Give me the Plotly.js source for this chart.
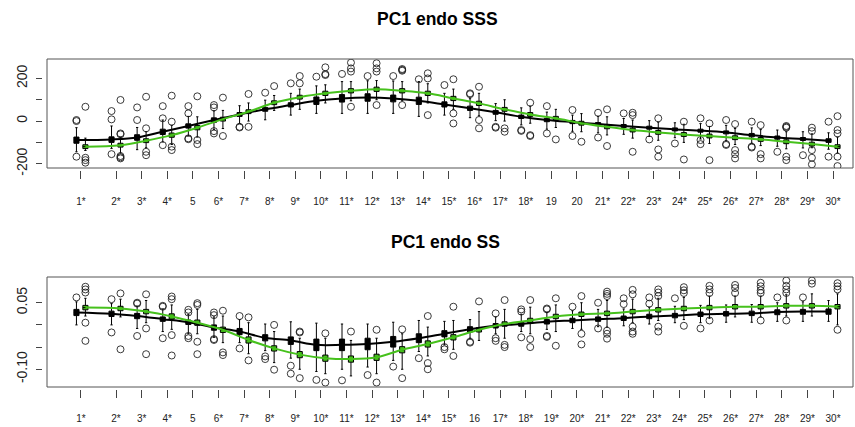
<!DOCTYPE html>
<html>
<head>
<meta charset="utf-8">
<script src="https://cdn.plot.ly/plotly-3.0.1.min.js"></script>
<style>html,body{margin:0;padding:0;background:#fff}#chart{width:855px;height:427px}</style>
</head>
<body>
<div id="chart"></div>
<script>
// ---- data ----
const groupPos = [0.63,2,3,4,5,6,7,8,9,10,11,12,13,14,15,16,17,18,19,20,21,22,23,24,25,26,27,28,29,30];
const labelsTop = ["1*","2*","3*","4*","5","6*","7*","8*","9*","10*","11*","12*","13*","14*","15*","16*","17*","18*","19","20","21*","22*","23*","24*","25*","26*","27*","28*","29*","30*"];
const labelsBot = ["1*","2*","3*","4*","5","6*","7*","8*","9*","10*","11*","12*","13*","14*","15*","16","17*","18*","19*","20*","21*","22*","23*","24*","25*","26*","27*","28*","29*","30*"];

// Top panel (PC1 endo SSS) - black series
const sssBlackMed = [-89,-86,-77,-50,-23,5,31,55,75,95,106,110,106,95,78,60,41,20,5,-5,-14,-23,-31,-39,-45,-53,-66,-77,-84,-92];
const sssBlackQ1  = [-104,-100,-90,-63,-33,-6,22,46,66,78,89,93,90,78,66,50,32,12,-3,-12,-21,-30,-38,-46,-52,-60,-74,-85,-91,-100];
const sssBlackQ3  = [-75,-74,-64,-38,-13,15,40,64,86,113,124,128,122,112,90,70,50,28,13,3,-7,-16,-24,-32,-38,-46,-58,-70,-77,-83];
const sssBlackLo  = [-144,-128,-134,-98,-70,-40,-12,6,28,36,36,36,36,22,28,16,2,-18,-38,-48,-55,-62,-72,-78,-84,-92,-104,-118,-126,-132];
const sssBlackHi  = [-31,-23,-30,5,22,48,72,98,130,165,185,189,188,185,130,105,82,62,42,28,22,12,2,-8,-12,-20,-32,-42,-50,-55];
const sssBlackOut = [[5,0,-167],[47,8,-155],[64,5],[70,13,-113],[70,36,-81,-85],[75,64,-47,-58],[-27,-30],[133],[177],[208],[221],[211],[211],[196],[169],[130,126],[-27,-31],[-42,-46],[70,-58],[52,-70],[39,-77],[36],[-86],[-105],[13,-89,-108],[5,-108,-112],[-3,-120,-124],[-144],[-160],[-3,-167]];

// Top panel - green series
const sssGreenMed = [-120,-113,-92,-66,-31,9,44,86,112,130,142,149,142,130,106,83,55,31,13,-10,-27,-42,-53,-63,-70,-78,-86,-97,-108,-120];
const sssGreenQ1  = [-129,-122,-101,-76,-41,0,35,77,103,120,132,139,132,120,96,73,46,22,4,-19,-36,-51,-62,-72,-79,-87,-95,-106,-117,-129];
const sssGreenQ3  = [-111,-104,-83,-56,-21,18,53,95,121,140,152,159,152,140,116,93,64,40,22,-1,-18,-33,-44,-54,-61,-69,-77,-88,-99,-111];
const sssGreenLo  = [-138,-150,-125,-110,-75,-35,0,50,55,85,95,100,95,85,55,25,0,-10,-30,-50,-65,-80,-90,-100,-105,-110,-115,-130,-125,-150];
const sssGreenHi  = [-80,-75,-50,-20,20,50,85,120,150,170,185,190,185,175,150,130,100,70,55,35,20,5,-5,-15,-25,-35,-40,-50,-60,-75];
const sssGreenOut = [[67,-172,-183,-195],[99,-58,-62,-164,-170,-175],[114,-34,-144,-160],[119,-3,-120,-136],[116,-89,-108],[110,-70],[127,-27],[164],[211,177],[252,216,220],[274,247,232,67],[271,247,232,75],[236,240,244,75],[224,200,28],[196,36,-11],[161,5,-34],[-34,-50],[86,-66,-70],[-86],[-97],[55,-117],[39,28,-144],[13,-133,-167],[-3,-180],[-11,-183],[-14,-136,-155,-175],[-19,-155,-175],[-23,-27,-31,-167,-183],[-31,-47,-136,-172,-203],[23,-42,-58,-167,-211]];

// Bottom panel (PC1 endo SS) - black series
const ssBlackMed = [0.028,0.025,0.020,0.013,0.006,-0.006,-0.015,-0.029,-0.035,-0.045,-0.045,-0.043,-0.038,-0.030,-0.020,-0.010,-0.002,0.002,0.007,0.010,0.013,0.015,0.019,0.021,0.024,0.025,0.026,0.029,0.030,0.030];
const ssBlackQ1  = [0.021,0.019,0.014,0.008,0.001,-0.012,-0.022,-0.036,-0.044,-0.058,-0.058,-0.056,-0.050,-0.040,-0.027,-0.016,-0.007,-0.003,0.002,0.005,0.008,0.010,0.014,0.016,0.019,0.020,0.021,0.023,0.024,0.024];
const ssBlackQ3  = [0.035,0.031,0.026,0.018,0.011,0.000,-0.008,-0.022,-0.027,-0.032,-0.032,-0.030,-0.026,-0.020,-0.013,-0.004,0.003,0.007,0.012,0.015,0.018,0.020,0.024,0.026,0.029,0.030,0.031,0.034,0.035,0.036];
const ssBlackLo  = [0.000,0.000,-0.008,-0.015,-0.020,-0.028,-0.040,-0.058,-0.075,-0.105,-0.100,-0.095,-0.080,-0.060,-0.045,-0.030,-0.020,-0.015,-0.010,-0.008,-0.004,-0.002,0.002,0.005,0.005,0.006,0.006,0.008,0.008,0.008];
const ssBlackHi  = [0.052,0.048,0.042,0.036,0.024,0.018,0.012,0.002,0.007,0.004,0.002,0.002,0.006,0.010,0.008,0.012,0.018,0.024,0.028,0.032,0.035,0.036,0.040,0.042,0.044,0.045,0.046,0.050,0.052,0.055];
const ssBlackOut = [[0.062],[0.058,-0.017],[0.050,0.048,-0.025],[0.043,0.041,-0.030],[0.034,0.028,-0.025,-0.030],[0.028,0.022,-0.032,-0.034],[0.020,-0.053],[-0.071,-0.077],[-0.092,-0.110],[-0.124],[-0.125],[-0.113],[-0.094],[-0.075],[-0.050,-0.055],[-0.038,-0.040],[0.026,-0.030,-0.036],[0.035,0.030,-0.028],[0.037,0.035,-0.025,-0.027],[0.041],[0.050,-0.008],[0.060,0.047],[0.062,0.048],[0.060],[-0.008],[],[],[0.062],[0.062],[]];

// Bottom panel - green series
const ssGreenMed = [0.039,0.037,0.030,0.019,0.005,-0.011,-0.034,-0.053,-0.067,-0.075,-0.077,-0.073,-0.056,-0.043,-0.028,-0.011,0.002,0.010,0.019,0.024,0.026,0.030,0.034,0.037,0.039,0.041,0.041,0.043,0.043,0.041];
const ssGreenQ1  = [0.034,0.032,0.025,0.013,-0.001,-0.017,-0.041,-0.059,-0.074,-0.082,-0.084,-0.080,-0.063,-0.050,-0.034,-0.016,-0.003,0.005,0.014,0.019,0.021,0.025,0.029,0.032,0.034,0.036,0.036,0.038,0.038,0.036];
const ssGreenQ3  = [0.044,0.042,0.035,0.025,0.011,-0.005,-0.027,-0.047,-0.060,-0.068,-0.070,-0.066,-0.049,-0.036,-0.022,-0.006,0.007,0.015,0.024,0.029,0.031,0.035,0.039,0.042,0.044,0.046,0.046,0.048,0.048,0.046];
const ssGreenLo  = [0.020,0.018,0.005,-0.010,-0.020,-0.040,-0.065,-0.085,-0.100,-0.110,-0.115,-0.110,-0.100,-0.070,-0.055,-0.035,-0.030,-0.020,-0.015,-0.010,-0.005,0.005,0.010,0.012,0.015,0.018,0.018,0.020,0.020,0.000];
const ssGreenHi  = [0.060,0.058,0.055,0.045,0.035,0.020,0.005,-0.015,-0.030,-0.030,-0.035,-0.030,-0.020,-0.005,0.010,0.030,0.035,0.040,0.045,0.050,0.055,0.058,0.060,0.062,0.065,0.065,0.065,0.068,0.070,0.070];
const ssGreenOut = [[0.086,0.080,0.073,0.005,-0.036],[0.071,-0.055],[0.069,-0.008,-0.066],[0.064,0.058,-0.023,-0.069],[0.049,0.045,-0.038,-0.066],[0.032,-0.062,-0.068],[0.017,-0.080],[0.000,-0.101],[-0.015,-0.017,-0.120],[-0.019,-0.130],[-0.015],[-0.011,-0.130],[-0.010,-0.120],[0.020,-0.086,-0.100],[0.041,-0.070],[0.053],[0.056,-0.045,-0.050],[0.056,-0.032,-0.050],[0.060,-0.047],[0.065,-0.020,-0.044],[0.075,0.070,0.065,-0.013,-0.020,-0.031],[0.079,0.069,-0.004,-0.015,-0.020],[0.080,0.073,0.065,-0.004,-0.015],[0.085,0.078,0.072,-0.002],[0.088,0.080,0.072,0.010],[0.090,0.083,0.072],[0.095,0.087,0.078,0.072,0.010],[0.100,0.088,0.080,0.072,0.010],[0.100,0.093],[0.094,0.087,0.080,-0.011]];

// ---- styles ----
const GREEN = '#46c11c';
const FONT = 'Liberation Sans, Arial, sans-serif';
const W = 855, H = 427;
const OFF = 0.175, BOXW = 0.2;

function boxTrace(xa, ya, dx, med, q1, q3, lo, hi, fill) {
  return {
    type: 'box', xaxis: xa, yaxis: ya,
    x: groupPos.map(p => p + dx), median: med, q1: q1, q3: q3,
    lowerfence: lo, upperfence: hi,
    width: BOXW, whiskerwidth: 0.45, boxpoints: false,
    fillcolor: fill, line: {color: '#000', width: 1},
    hoverinfo: 'skip', showlegend: false
  };
}
function outTrace(xa, ya, dx, outs) {
  const xs = [], ys = [];
  outs.forEach((arr, i) => arr.forEach(v => { xs.push(groupPos[i] + dx); ys.push(v); }));
  return {
    type: 'scatter', mode: 'markers', xaxis: xa, yaxis: ya, x: xs, y: ys,
    marker: {symbol: 'circle-open', size: 7, color: 'rgba(25,25,25,0.85)', line: {width: 1}},
    hoverinfo: 'skip', showlegend: false
  };
}
function lineTrace(xa, ya, dx, med, color) {
  return {
    type: 'scatter', mode: 'lines', xaxis: xa, yaxis: ya,
    x: groupPos.map(p => p + dx), y: med,
    line: {color: color, width: 2, shape: 'spline', smoothing: 1},
    hoverinfo: 'skip', showlegend: false
  };
}

const data = [
  boxTrace('x', 'y', -OFF, sssBlackMed, sssBlackQ1, sssBlackQ3, sssBlackLo, sssBlackHi, '#000'),
  boxTrace('x', 'y', OFF, sssGreenMed, sssGreenQ1, sssGreenQ3, sssGreenLo, sssGreenHi, GREEN),
  outTrace('x', 'y', -OFF, sssBlackOut),
  outTrace('x', 'y', OFF, sssGreenOut),
  lineTrace('x', 'y', -OFF, sssBlackMed, '#000'),
  lineTrace('x', 'y', OFF, sssGreenMed, GREEN),
  boxTrace('x2', 'y2', -OFF, ssBlackMed, ssBlackQ1, ssBlackQ3, ssBlackLo, ssBlackHi, '#000'),
  boxTrace('x2', 'y2', OFF, ssGreenMed, ssGreenQ1, ssGreenQ3, ssGreenLo, ssGreenHi, GREEN),
  outTrace('x2', 'y2', -OFF, ssBlackOut),
  outTrace('x2', 'y2', OFF, ssGreenOut),
  lineTrace('x2', 'y2', -OFF, ssBlackMed, '#000'),
  lineTrace('x2', 'y2', OFF, ssGreenMed, GREEN)
];

const xDom = [47 / W, 853 / W];
const xRange = [-0.695, 30.78];
function xAxis(labels, yPx, standoff) {
  return {
    domain: xDom, range: xRange, anchor: 'free', position: 1 - yPx / H,
    tickmode: 'array', tickvals: groupPos, ticktext: labels,
    ticks: 'outside', ticklen: 8, tickwidth: 1, tickcolor: '#444',
    tickfont: {family: FONT, size: 10, color: '#222'}, ticklabelstandoff: standoff,
    showgrid: false, zeroline: false, showline: false, fixedrange: true
  };
}
function yAxis(dom, range, vals, text) {
  return {
    domain: dom, range: range, anchor: 'free', position: 42 / W,
    tickmode: 'array', tickvals: vals, ticktext: text, tickangle: -90,
    ticks: 'outside', ticklen: 6, tickwidth: 1, tickcolor: '#444',
    tickfont: {family: FONT, size: 14, color: '#222'}, ticklabelstandoff: 3,
    showgrid: false, zeroline: false, showline: false, fixedrange: true
  };
}

const layout = {
  width: W, height: H,
  margin: {l: 0, r: 0, t: 0, b: 0},
  paper_bgcolor: '#fff', plot_bgcolor: '#fff',
  showlegend: false,
  xaxis: xAxis(labelsTop, 170, 14),
  yaxis: yAxis([1 - 168 / H, 1 - 59 / H], [-220, 291], [-200, -100, 0, 100, 200], ['-200', '', '0', '', '200']),
  xaxis2: xAxis(labelsBot, 389, 12),
  yaxis2: yAxis([1 - 387 / H, 1 - 277 / H], [-0.14, 0.108], [-0.10, -0.05, 0, 0.05], ['-0.10', '', '', '0.05']),
  shapes: [
    {type: 'rect', xref: 'x domain', yref: 'y domain', x0: 0, x1: 1, y0: 0, y1: 1, line: {color: '#555', width: 1}},
    {type: 'rect', xref: 'x2 domain', yref: 'y2 domain', x0: 0, x1: 1, y0: 0, y1: 1, line: {color: '#555', width: 1}}
  ],
  annotations: [
    {text: '<b>PC1 endo SSS</b>', xref: 'x domain', yref: 'paper', x: 0.485, y: 1 - 19 / H,
     showarrow: false, xanchor: 'center', yanchor: 'middle', font: {family: FONT, size: 17.5, color: '#000'}},
    {text: '<b>PC1 endo SS</b>', xref: 'x domain', yref: 'paper', x: 0.495, y: 1 - 242 / H,
     showarrow: false, xanchor: 'center', yanchor: 'middle', font: {family: FONT, size: 17.5, color: '#000'}}
  ]
};

Plotly.newPlot('chart', data, layout, {staticPlot: true, displayModeBar: false});
</script>
</body>
</html>
